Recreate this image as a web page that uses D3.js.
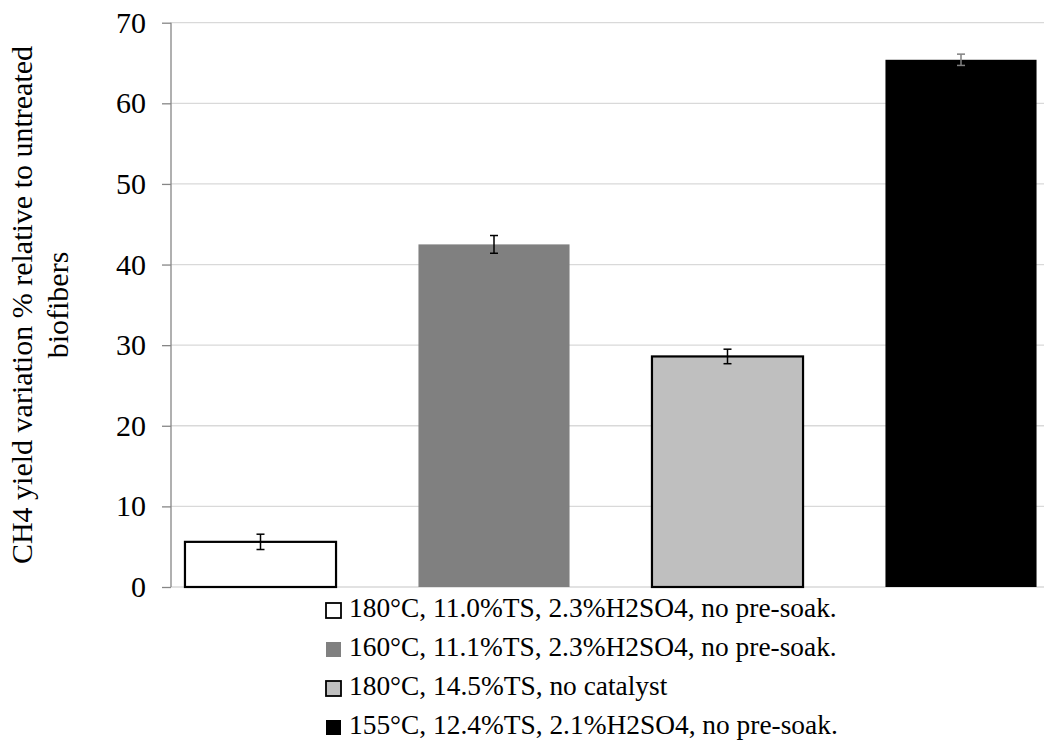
<!DOCTYPE html>
<html>
<head>
<meta charset="utf-8">
<script src="https://cdn.jsdelivr.net/npm/d3@7"></script>
<style>
  body { margin: 0; background: #fff; }
  svg { display: block; font-family: "Liberation Serif", "Times New Roman", serif; }
</style>
</head>
<body>
<svg id="chart" width="1044" height="751"></svg>
<script>
const categories = [
  '180°C, 11.0%TS, 2.3%H2SO4, no pre-soak.',
  '160°C, 11.1%TS, 2.3%H2SO4, no pre-soak.',
  '180°C, 14.5%TS, no catalyst',
  '155°C, 12.4%TS, 2.1%H2SO4, no pre-soak.'
];
const values = [5.6, 42.5, 28.6, 65.4];
const errors = [0.95, 1.1, 0.9, 0.7];
const yTicks = [0, 10, 20, 30, 40, 50, 60, 70];

const fills = ['#ffffff', '#808080', '#bfbfbf', '#000000'];
const strokes = ['#000000', 'none', '#000000', 'none'];
const errColors = ['#000000', '#000000', '#000000', '#808080'];

const svg = d3.select('#chart');

const axisX = 171;
const plotRight = 1044;
const plotTop = 22.7;
const plotBottom = 587;

const scaleY = d3.scaleLinear()
  .domain([0, 70])
  .range([plotBottom, plotTop]);

// category slots (the first slot starts a bit left of the value axis)
const scaleX = d3.scaleBand()
  .domain(categories)
  .range([143.75, 1077.75])
  .paddingInner(0.353)
  .paddingOuter(0.1765);

// gridlines
svg.append('g')
  .selectAll('line')
  .data(yTicks)
  .join('line')
  .attr('x1', axisX)
  .attr('x2', plotRight)
  .attr('y1', d => scaleY(d))
  .attr('y2', d => scaleY(d))
  .attr('stroke', '#d9d9d9')
  .attr('stroke-width', 1.3);

// y axis
const yAxis = d3.axisLeft(scaleY)
  .tickValues(yTicks)
  .tickSize(9)
  .tickPadding(16);

const yAxisWrapper = svg.append('g')
  .attr('transform', `translate(${axisX}, 0)`)
  .call(yAxis)
  .attr('font-family', null)
  .attr('font-size', null);
yAxisWrapper.select('.domain').attr('stroke', '#868686').attr('stroke-width', 1.3)
  .attr('d', `M0,${scaleY(0)}V${scaleY(70)}`);
yAxisWrapper.selectAll('.tick line').attr('stroke', '#868686').attr('stroke-width', 1.3);
yAxisWrapper.selectAll('.tick text')
  .attr('font-size', 30)
  .attr('fill', '#000');

// bars
svg.append('g')
  .selectAll('rect')
  .data(values)
  .join('rect')
  .attr('x', (_, i) => scaleX(categories[i]))
  .attr('y', d => scaleY(d))
  .attr('width', scaleX.bandwidth())
  .attr('height', d => scaleY(0) - scaleY(d))
  .attr('fill', (_, i) => fills[i])
  .attr('stroke', (_, i) => strokes[i])
  .attr('stroke-width', 2.2);

// error bars
const errG = svg.append('g');
values.forEach((v, i) => {
  const cx = scaleX(categories[i]) + scaleX.bandwidth() / 2;
  const y1 = scaleY(v + errors[i]);
  const y2 = scaleY(v - errors[i]);
  const g = errG.append('g').attr('stroke', errColors[i]).attr('stroke-width', 1.5);
  g.append('line').attr('x1', cx).attr('x2', cx).attr('y1', y1).attr('y2', y2);
  g.append('line').attr('x1', cx - 4).attr('x2', cx + 4).attr('y1', y1).attr('y2', y1);
  g.append('line').attr('x1', cx - 4).attr('x2', cx + 4).attr('y1', y2).attr('y2', y2);
});

// axis title
const title = svg.append('text')
  .attr('transform', 'translate(0, 305) rotate(-90)')
  .attr('text-anchor', 'middle')
  .attr('font-size', 30)
  .attr('fill', '#000');
title.append('tspan').attr('x', 0).attr('y', 32).text('CH4 yield variation % relative to untreated');
title.append('tspan').attr('x', 0).attr('y', 68).text('biofibers');

// legend
const legend = svg.append('g')
  .selectAll('g')
  .data(categories)
  .join('g')
  .attr('transform', (_, i) => `translate(325, ${617 + i * 39})`);

legend.append('rect')
  .attr('x', 1)
  .attr('y', -14)
  .attr('width', 15)
  .attr('height', 15)
  .attr('fill', (_, i) => fills[i])
  .attr('stroke', (_, i) => strokes[i])
  .attr('stroke-width', 1.8);

legend.append('text')
  .attr('x', 24)
  .attr('y', 0)
  .attr('font-size', 27.4)
  .attr('fill', '#000')
  .text(d => d);
</script>
</body>
</html>
